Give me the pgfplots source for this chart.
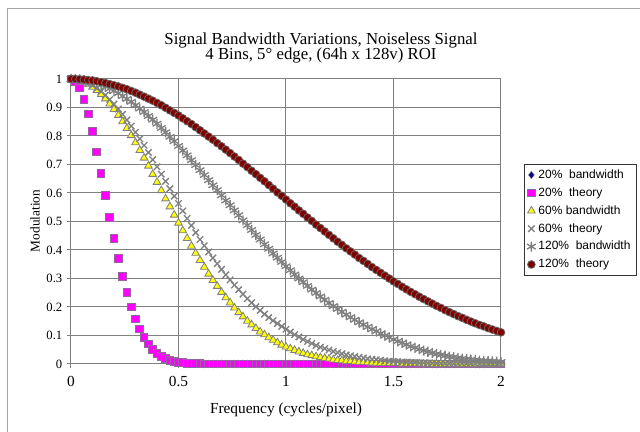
\documentclass[border=0pt]{standalone}
\usepackage{pgfplots}
\pgfplotsset{compat=1.18}
\usepackage{pgfplotstable}
\usepackage{fontspec}
\setmainfont{Liberation Serif}
\newfontfamily\arial{Liberation Sans}
\definecolor{gridgray}{RGB}{128,128,128}
\definecolor{navyc}{RGB}{0,0,128}
\definecolor{maroonc}{RGB}{128,0,0}
\definecolor{sqedge}{RGB}{150,100,160}
\definecolor{magc}{RGB}{255,0,255}
\definecolor{yelc}{RGB}{255,255,0}

\pgfplotstableread{
f s20bw s20th s60bw s60th s120bw s120th
0.00 1 1 1 1 1 1
0.02 0.992 0.992 0.999 0.999 1.000 1.000
0.04 0.968 0.968 0.996 0.996 0.998 0.999
0.06 0.929 0.929 0.990 0.992 0.996 0.998
0.08 0.877 0.877 0.982 0.985 0.993 0.996
0.10 0.815 0.815 0.972 0.977 0.989 0.995
0.12 0.744 0.744 0.960 0.967 0.985 0.992
0.14 0.669 0.669 0.946 0.956 0.979 0.989
0.16 0.592 0.592 0.931 0.943 0.973 0.986
0.18 0.515 0.515 0.913 0.928 0.966 0.982
0.20 0.440 0.440 0.894 0.912 0.958 0.978
0.22 0.371 0.371 0.873 0.895 0.950 0.974
0.24 0.307 0.307 0.851 0.876 0.940 0.969
0.26 0.250 0.250 0.827 0.856 0.930 0.964
0.28 0.200 0.200 0.802 0.835 0.920 0.958
0.30 0.158 0.158 0.777 0.813 0.908 0.952
0.32 0.123 0.123 0.750 0.790 0.896 0.945
0.34 0.094 0.094 0.723 0.767 0.884 0.938
0.36 0.070 0.070 0.695 0.742 0.870 0.931
0.38 0.052 0.052 0.666 0.717 0.857 0.924
0.40 0.038 0.038 0.638 0.692 0.843 0.916
0.42 0.027 0.027 0.609 0.666 0.828 0.908
0.44 0.019 0.019 0.580 0.641 0.813 0.899
0.46 0.013 0.013 0.552 0.615 0.797 0.890
0.48 0.009 0.009 0.523 0.589 0.782 0.881
0.50 0.006 0.006 0.495 0.563 0.765 0.872
0.52 0.004 0.004 0.468 0.537 0.749 0.862
0.54 0.003 0.003 0.441 0.511 0.732 0.852
0.56 0.002 0.002 0.414 0.486 0.715 0.842
0.58 0.001 0.001 0.389 0.461 0.698 0.831
0.60 0.001 0.001 0.364 0.437 0.680 0.820
0.62 0 0 0.340 0.415 0.663 0.809
0.64 0 0 0.316 0.393 0.645 0.798
0.66 0 0 0.294 0.372 0.627 0.787
0.68 0 0 0.273 0.352 0.610 0.775
0.70 0 0 0.252 0.332 0.592 0.764
0.72 0 0 0.233 0.313 0.574 0.752
0.74 0 0 0.215 0.295 0.557 0.740
0.76 0 0 0.197 0.277 0.539 0.728
0.78 0 0 0.181 0.261 0.522 0.716
0.80 0 0 0.166 0.245 0.504 0.703
0.82 0 0 0.151 0.229 0.487 0.691
0.84 0 0 0.138 0.215 0.470 0.678
0.86 0 0 0.125 0.201 0.453 0.666
0.88 0 0 0.113 0.188 0.437 0.653
0.90 0 0 0.103 0.175 0.420 0.641
0.92 0 0 0.093 0.163 0.404 0.628
0.94 0 0 0.084 0.152 0.388 0.615
0.96 0 0 0.075 0.142 0.373 0.602
0.98 0 0 0.067 0.132 0.358 0.590
1.00 0 0 0.060 0.122 0.343 0.577
1.02 0 0 0.054 0.112 0.329 0.564
1.04 0 0 0.048 0.103 0.314 0.552
1.06 0 0 0.043 0.095 0.300 0.539
1.08 0 0 0.038 0.086 0.287 0.527
1.10 0 0 0.033 0.079 0.274 0.514
1.12 0 0 0.030 0.072 0.261 0.502
1.14 0 0 0.026 0.065 0.249 0.489
1.16 0 0 0.023 0.059 0.237 0.477
1.18 0 0 0.020 0.054 0.225 0.465
1.20 0 0 0.018 0.049 0.214 0.453
1.22 0 0 0.015 0.044 0.203 0.441
1.24 0 0 0.013 0.040 0.193 0.429
1.26 0 0 0.012 0.036 0.183 0.418
1.28 0 0 0.010 0.032 0.173 0.406
1.30 0 0 0.009 0.029 0.164 0.395
1.32 0 0 0.008 0.026 0.155 0.384
1.34 0 0 0.006 0.023 0.146 0.372
1.36 0 0 0.006 0.021 0.138 0.362
1.38 0 0 0.005 0.018 0.130 0.351
1.40 0 0 0.004 0.016 0.122 0.340
1.42 0 0 0.003 0.015 0.115 0.330
1.44 0 0 0.003 0.013 0.107 0.320
1.46 0 0 0.003 0.011 0.100 0.310
1.48 0 0 0.002 0.010 0.093 0.300
1.50 0 0 0.002 0.009 0.086 0.290
1.52 0 0 0.002 0.008 0.080 0.281
1.54 0 0 0.001 0.007 0.074 0.271
1.56 0 0 0.001 0.006 0.068 0.262
1.58 0 0 0.001 0.005 0.062 0.253
1.60 0 0 0.001 0.005 0.057 0.245
1.62 0 0 0.001 0.004 0.052 0.236
1.64 0 0 0 0.004 0.047 0.228
1.66 0 0 0 0.003 0.043 0.220
1.68 0 0 0 0.003 0.039 0.212
1.70 0 0 0 0.002 0.035 0.204
1.72 0 0 0 0.002 0.032 0.197
1.74 0 0 0 0.002 0.029 0.189
1.76 0 0 0 0.002 0.026 0.182
1.78 0 0 0 0.001 0.024 0.175
1.80 0 0 0 0.001 0.021 0.168
1.82 0 0 0 0.001 0.019 0.162
1.84 0 0 0 0.001 0.017 0.155
1.86 0 0 0 0.001 0.015 0.149
1.88 0 0 0 0.001 0.014 0.143
1.90 0 0 0 0 0.012 0.137
1.92 0 0 0 0 0.011 0.132
1.94 0 0 0 0 0.010 0.126
1.96 0 0 0 0 0.009 0.121
1.98 0 0 0 0 0.008 0.116
2.00 0 0 0 0 0.007 0.111
}\data

\begin{document}
\begin{tikzpicture}
\begin{axis}[
  name=ax,
  scale only axis, width=322.5pt, height=213.75pt,
  xmin=0, xmax=2, ymin=0, ymax=1,
  clip=false,
  axis line style={gridgray, line width=0.75pt},
  grid=major,
  major grid style={gridgray, line width=0.75pt},
  xtick={0,0.5,1,1.5,2},
  xticklabels={0,0.5,1,1.5,2},
  ytick={0,0.1,0.2,0.3,0.4,0.5,0.6,0.7,0.8,0.9,1},
  yticklabels={0,0.1,0.2,0.3,0.4,0.5,0.6,0.7,0.8,0.9,1},
  xtick pos=left, ytick pos=left,
  tick align=outside,
  major tick length=3pt,
  tick style={gridgray, line width=0.75pt},
  xticklabel style={font=\fontsize{11.5}{12}\selectfont, yshift=-3pt},
  yticklabel style={font=\fontsize{9.5}{10}\selectfont},
  xlabel={Frequency (cycles/pixel)},
  ylabel={Modulation},
  xlabel style={at={(axis description cs:0.5,-0.161)}, anchor=center, font=\fontsize{11.5}{12}\selectfont},
  ylabel style={at={(axis description cs:-0.0837,0.502)}, anchor=center, font=\fontsize{10}{12}\selectfont},
  legend style={at={(1.0535,0.7018)}, anchor=north west, draw=black!80, line width=0.5pt,
    font=\arial\fontsize{9}{10}\selectfont, row sep=1.4pt, inner sep=2pt},
  legend cell align=left,
]
\addplot[only marks, mark=diamond*, mark size=3pt, mark options={fill=navyc, draw=gray!70, line width=0.4pt}] table[x=f, y=s20bw] {\data};
\addlegendentry{20\%\ \ bandwidth}
\addplot[only marks, mark=square*, mark size=2.9pt, mark options={fill=magc, draw=sqedge, line width=0.75pt}] table[x=f, y=s20th] {\data};
\addlegendentry{20\%\ \ theory}
\addplot[only marks, mark=triangle*, mark size=3.3pt, mark options={fill=yelc, draw=gridgray, line width=0.6pt}] table[x=f, y=s60bw] {\data};
\addlegendentry{60\% bandwidth}
\addplot[only marks, mark=x, mark size=3.4pt, mark options={draw=gridgray, line width=1pt}] table[x=f, y=s60th] {\data};
\addlegendentry{60\%\ \ theory}
\addplot[only marks, mark=asterisk, mark size=3.8pt, mark options={draw=gridgray, line width=1pt}] table[x=f, y=s120bw] {\data};
\addlegendentry{120\%\ \ bandwidth}
\addplot[only marks, mark=*, mark size=2.9pt, mark options={fill=maroonc, draw=gray!80!black, line width=0.6pt}] table[x=f, y=s120th] {\data};
\addlegendentry{120\%\ \ theory}
\end{axis}
\pgfresetboundingbox
\begin{scope}[shift={(ax.south west)}, xshift=-53.25pt, yshift=-51pt]
\path[use as bounding box] (0pt,0pt) rectangle (480pt,324pt);
\draw[gray!70, line width=0.75pt] (6pt,-5pt) |- (490pt,317.25pt);
\node[anchor=base, font=\fontsize{12.6}{14}\selectfont] at (240.75pt,290.5pt) {Signal Bandwidth Variations, Noiseless Signal};
\node[anchor=base, font=\fontsize{12.6}{14}\selectfont] at (240.75pt,279pt) {4 Bins, 5° edge, (64h x 128v) ROI};
\end{scope}
\end{tikzpicture}
\end{document}
